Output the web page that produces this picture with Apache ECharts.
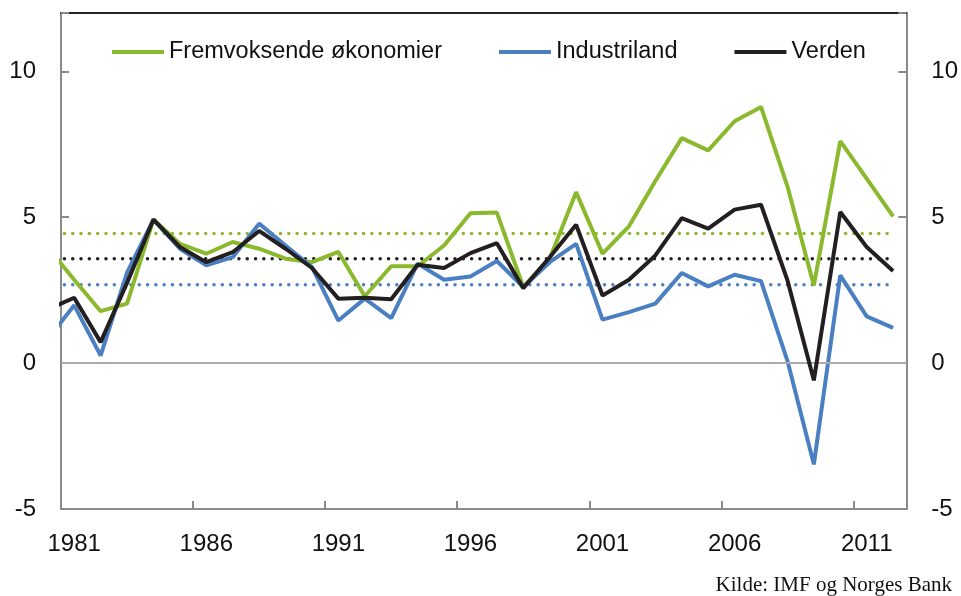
<!DOCTYPE html>
<html>
<head>
<meta charset="utf-8">
<script src="https://cdn.jsdelivr.net/npm/echarts@6/dist/echarts.min.js"></script>
<style>
  html, body { margin: 0; padding: 0; background: #fff; }
  #chart { width: 961px; height: 596px; }
</style>
</head>
<body>
<div id="chart"></div>
<script>
// years shown as categories on the axis
var labelYears = [];
for (var y = 1981; y <= 2012; y++) labelYears.push(String(y));

// data years (1980 sits just outside the left edge and is clipped)
var years = [1980, 1981, 1982, 1983, 1984, 1985, 1986, 1987, 1988, 1989, 1990,
  1991, 1992, 1993, 1994, 1995, 1996, 1997, 1998, 1999, 2000,
  2001, 2002, 2003, 2004, 2005, 2006, 2007, 2008, 2009, 2010, 2011, 2012];

var emerging = [3.96, 2.86, 1.78, 2.04, 4.92, 4.09, 3.75, 4.15, 3.92, 3.58, 3.46,
  3.81, 2.29, 3.32, 3.32, 4.03, 5.14, 5.16, 2.61, 3.58, 5.86,
  3.75, 4.69, 6.24, 7.71, 7.29, 8.29, 8.78, 6.06, 2.66, 7.61, 6.32, 5.03];

var industrial = [0.83, 1.98, 0.26, 3.1, 4.92, 3.92, 3.35, 3.63, 4.78, 4.03, 3.29,
  1.46, 2.21, 1.54, 3.41, 2.86, 2.97, 3.5, 2.61, 3.46, 4.09,
  1.49, 1.75, 2.04, 3.09, 2.63, 3.03, 2.81, 0.08, -3.47, 3.01, 1.6, 1.21];

var world = [1.84, 2.24, 0.72, 2.75, 4.92, 3.98, 3.46, 3.8, 4.53, 3.92, 3.26,
  2.21, 2.24, 2.19, 3.37, 3.26, 3.77, 4.11, 2.57, 3.63, 4.74,
  2.32, 2.86, 3.69, 4.97, 4.61, 5.26, 5.43, 2.84, -0.59, 5.18, 3.98, 3.16];

// averages over the period (dotted lines)
var avgEmerging = 4.44;
var avgIndustrial = 2.69;
var avgWorld = 3.58;

var names = ['Fremvoksende økonomier', 'Industriland', 'Verden'];
var colors = ['#8ab92d', '#4a80c2', '#231f20'];

function pairs(vals) {
  return years.map(function (yr, i) { return [yr, vals[i]]; });
}
function flat(v) {
  return [[years[0], v], [years[years.length - 1], v]];
}

var font = 'Liberation Sans, Arial, sans-serif';
var grey = '#8a8a8a';

function yAxis(pos) {
  return {
    type: 'value', position: pos, min: -5, max: 12, interval: 5,
    axisLine: { show: true, lineStyle: { color: grey, width: 2 } },
    axisTick: { show: true, inside: true, length: 8, lineStyle: { color: grey, width: 2 } },
    axisLabel: {
      margin: 25, fontSize: 24, color: '#111', fontFamily: font,
      formatter: function (v) { return v % 5 === 0 ? String(v) : ''; }
    },
    splitLine: { show: false }
  };
}

function line(i, vals) {
  return {
    name: names[i], type: 'line', xAxisIndex: 1, data: pairs(vals),
    symbol: 'none', clip: true, z: 3 + i,
    lineStyle: { color: colors[i], width: 4 }, itemStyle: { color: colors[i] }
  };
}
function dotted(i, v) {
  return {
    name: names[i] + ' snitt', type: 'line', xAxisIndex: 1, data: flat(v),
    symbol: 'none', clip: true, z: 2, silent: true,
    lineStyle: { color: colors[i], width: 3.5, type: [0.01, 8.3], cap: 'round' }
  };
}

var chart = echarts.init(document.getElementById('chart'));
chart.setOption({
  animation: false,
  grid: { left: 61, right: 53, top: 13, bottom: 87 },
  legend: {
    data: names, left: 107, top: 35, itemGap: 57, itemWidth: 52, itemHeight: 4,
    icon: 'rect',
    textStyle: { fontSize: 23.5, color: '#111', fontFamily: font }
  },
  xAxis: [{
    type: 'category', data: labelYears, position: 'bottom', boundaryGap: true,
    axisLine: { show: true, onZero: false, lineStyle: { color: grey, width: 2 } },
    axisTick: { show: true, inside: true, length: 8, interval: 4, lineStyle: { color: grey, width: 2 } },
    axisLabel: { interval: 4, margin: 23, fontSize: 24, color: '#111', fontFamily: font },
    splitLine: { show: false }
  }, {
    type: 'value', position: 'top', min: 1980.5, max: 2012.5,
    axisLine: { show: true, onZero: false, lineStyle: { color: '#222', width: 2 } },
    axisTick: { show: false }, axisLabel: { show: false }, splitLine: { show: false }
  }],
  yAxis: [yAxis('left'), yAxis('right')],
  series: [
    dotted(0, avgEmerging), dotted(1, avgIndustrial), dotted(2, avgWorld),
    Object.assign(line(0, emerging), {
      markLine: {
        silent: true, symbol: 'none', label: { show: false },
        lineStyle: { color: '#aaa', width: 2, type: 'solid' },
        data: [{ yAxis: 0 }]
      }
    }),
    line(1, industrial),
    line(2, world)
  ],
  graphic: [{
    type: 'text', right: 9, top: 575,
    style: { text: 'Kilde: IMF og Norges Bank', fontSize: 21, fill: '#111',
      fontFamily: 'Liberation Serif, Times New Roman, serif' }
  }]
});
</script>
</body>
</html>
